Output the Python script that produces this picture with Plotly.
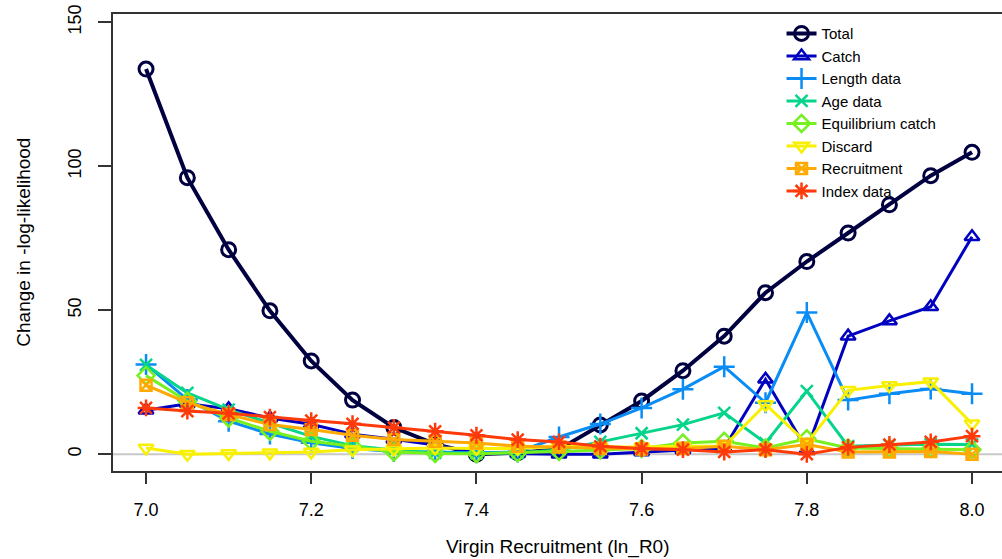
import plotly.graph_objects as go

ln_r0 = [7.0, 7.05, 7.1, 7.15, 7.2, 7.25, 7.3, 7.35, 7.4, 7.45, 7.5,
         7.55, 7.6, 7.65, 7.7, 7.75, 7.8, 7.85, 7.9, 7.95, 8.0]

total = [133.7, 96.0, 71.0, 49.8, 32.4, 18.8, 9.3, 3.5, 0.0, 0.5, 1.7,
         10.2, 18.5, 29.0, 41.0, 56.1, 66.9, 76.8, 86.6, 96.7, 104.8]
catch = [15.3, 17.5, 15.8, 12.6, 10.4, 7.0, 5.2, 3.2, 0.5, 0.2, 0.0,
         0.0, 0.8, 1.5, 2.2, 26.0, 1.6, 41.0, 46.3, 51.2, 75.5]
length_data = [31.2, 19.0, 11.5, 7.0, 4.0, 2.0, 1.0, 0.8, 0.5, 0.8, 6.0,
               10.5, 16.1, 22.6, 30.4, 17.9, 49.2, 18.8, 21.0, 22.7, 21.0]
age_data = [31.0, 21.3, 15.5, 10.8, 6.2, 3.0, 1.5, 0.5, 0.3, 0.5, 1.5,
            4.3, 7.3, 10.3, 14.4, 3.9, 21.9, 2.8, 3.2, 3.5, 3.4]
equil_catch = [27.3, 18.4, 12.6, 8.0, 4.5, 2.8, 0.8, 0.3, 0.2, 0.5, 1.0,
               1.5, 2.0, 3.9, 4.5, 2.2, 5.4, 2.2, 2.0, 2.0, 1.6]
discard = [2.2, 0.0, 0.3, 0.5, 0.8, 1.6, 1.8, 2.2, 2.0, 2.0, 2.8,
           2.5, 2.5, 2.8, 2.8, 17.3, 3.9, 22.2, 23.9, 25.2, 10.6]
recruitment = [24.0, 17.9, 13.8, 10.3, 8.6, 6.6, 5.1, 4.5, 3.9, 2.8, 2.5,
               2.0, 1.8, 2.0, 2.8, 1.6, 3.4, 0.8, 0.8, 1.0, 0.0]
index_data = [16.1, 15.0, 14.2, 12.9, 11.7, 10.6, 9.3, 8.0, 6.6, 5.1, 4.3,
              2.8, 2.0, 1.6, 0.8, 1.6, 0.0, 2.4, 3.4, 4.3, 6.3]

series = [
    ("Total", total, "#000040", "circle-open", 14, 4),
    ("Catch", catch, "#0000C0", "triangle-up-open", 13, 3),
    ("Length data", length_data, "#0A8CF5", "cross-thin-open", 15, 3),
    ("Age data", age_data, "#05D48A", "x-thin-open", 12, 3),
    ("Equilibrium catch", equil_catch, "#77F020", "diamond-open", 13, 3),
    ("Discard", discard, "#F8F000", "triangle-down-open", 13, 3),
    ("Recruitment", recruitment, "#FFAA00", "square-x-open", 11, 3),
    ("Index data", index_data, "#FF3A0A", "asterisk-open", 14, 3),
]

fig = go.Figure()
for name, vals, col, sym, msize, lw in series:
    fig.add_trace(go.Scatter(
        x=ln_r0, y=vals, name=name, mode="lines+markers",
        line=dict(color=col, width=lw),
        marker=dict(symbol=sym, size=msize, color=col,
                    line=dict(color=col, width=3 if name == "Total" else 2.5)),
    ))

# zero reference line
fig.add_shape(type="line", xref="paper", yref="y", x0=0, x1=1, y0=0, y1=0,
              line=dict(color="#C8C8C8", width=2), layer="below")

fig.update_layout(
    width=1002, height=559,
    margin=dict(l=113, r=0, t=14, b=88),
    plot_bgcolor="white", paper_bgcolor="white",
    font=dict(family="Liberation Sans, Arial, sans-serif", color="black", size=18),
    showlegend=True,
    legend=dict(x=0.752, y=0.993, xanchor="left", yanchor="top",
                bgcolor="rgba(0,0,0,0)", font=dict(size=15),
                tracegroupgap=0),
    annotations=[
        dict(text="Virgin Recruitment (ln_R0)", xref="paper", yref="paper",
             x=0.50, y=-0.167, xanchor="center", yanchor="middle",
             showarrow=False, font=dict(size=19)),
        dict(text="Change in -log-likelihood", xref="paper", yref="paper",
             x=-0.101, y=0.5, xanchor="center", yanchor="middle",
             textangle=-90, showarrow=False, font=dict(size=19)),
    ],
)

fig.update_xaxes(range=[6.96, 8.0363], tickvals=[7.0, 7.2, 7.4, 7.6, 7.8, 8.0],
                 tickformat=".1f", showgrid=False, zeroline=False,
                 showline=True, linecolor="#333333", linewidth=2, mirror=True,
                 ticks="outside", ticklen=11, tickwidth=2, tickcolor="#333333",
                 ticklabelstandoff=10)
fig.update_yaxes(range=[-5.8, 152.8], tickvals=[0, 50, 100, 150],
                 showgrid=False, zeroline=False,
                 showline=True, linecolor="#333333", linewidth=2,
                 ticks="outside", ticklen=13, tickwidth=2, tickcolor="#333333",
                 tickangle=-90, ticklabelstandoff=10)

# drop the default page margin so the figure sits at the window's top-left
fig.write_html("out.html", config={"displayModeBar": False},
               post_script="document.body.style.margin='0';")
